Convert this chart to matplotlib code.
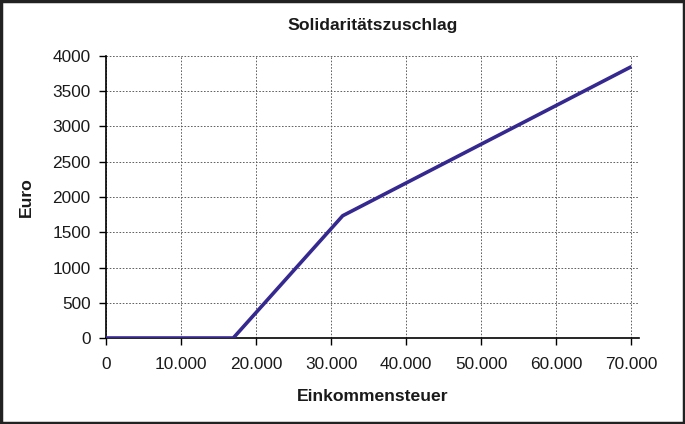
import matplotlib
matplotlib.use("Agg")
import matplotlib.pyplot as plt
from matplotlib.patches import Rectangle

plt.rcParams["font.family"] = ["Liberation Sans", "DejaVu Sans"]

# Einkommensteuer (Euro) -> Solidaritätszuschlag (Euro)
income_tax = [0, 16956, 31528, 70000]
soli = [0, 0, 1734, 3850]
x_ticks = [0, 10000, 20000, 30000, 40000, 50000, 60000, 70000]
x_labels = ["0", "10.000", "20.000", "30.000", "40.000", "50.000", "60.000", "70.000"]
y_ticks = [0, 500, 1000, 1500, 2000, 2500, 3000, 3500, 4000]

fig = plt.figure(figsize=(6.85, 4.24), dpi=100)
ax = fig.add_axes([106 / 685, 1 - 338 / 424, (639 - 106) / 685, (338 - 56) / 424])

ax.plot(income_tax, soli, color="#35288f", linewidth=2.6, solid_capstyle="butt", zorder=3)

ax.set_xlim(0, 71000)
ax.set_ylim(0, 4000)
ax.set_xticks(x_ticks)
ax.set_xticklabels(x_labels)
ax.set_yticks(y_ticks)
ax.tick_params(axis="both", labelsize=12.4, length=5, width=1, direction="out",
               color="black", labelcolor="#1a1a1a")
ax.tick_params(axis="x", pad=9)
ax.tick_params(axis="y", pad=6)

for s in ("top", "right"):
    ax.spines[s].set_visible(False)
for s in ("left", "bottom"):
    ax.spines[s].set_linewidth(1.2)

ax.grid(True, color="#555555", linestyle=(0, (1.8, 1.8)), linewidth=0.65)
ax.set_axisbelow(True)

ax.set_title("Solidaritätszuschlag", fontsize=12.6, fontweight="bold", pad=19,
             color="#1a1a1a")
ax.set_xlabel("Einkommensteuer", fontsize=12.6, fontweight="bold", labelpad=12,
              color="#1a1a1a")
ax.set_ylabel("Euro", fontsize=12.6, fontweight="bold", labelpad=13, color="#1a1a1a")

# frame around the whole figure
fig.patches.append(Rectangle((0.002, 0.003), 0.996, 0.994, transform=fig.transFigure,
                             fill=False, edgecolor="#222222", linewidth=2.5))

fig.savefig("out.png", dpi=100)
